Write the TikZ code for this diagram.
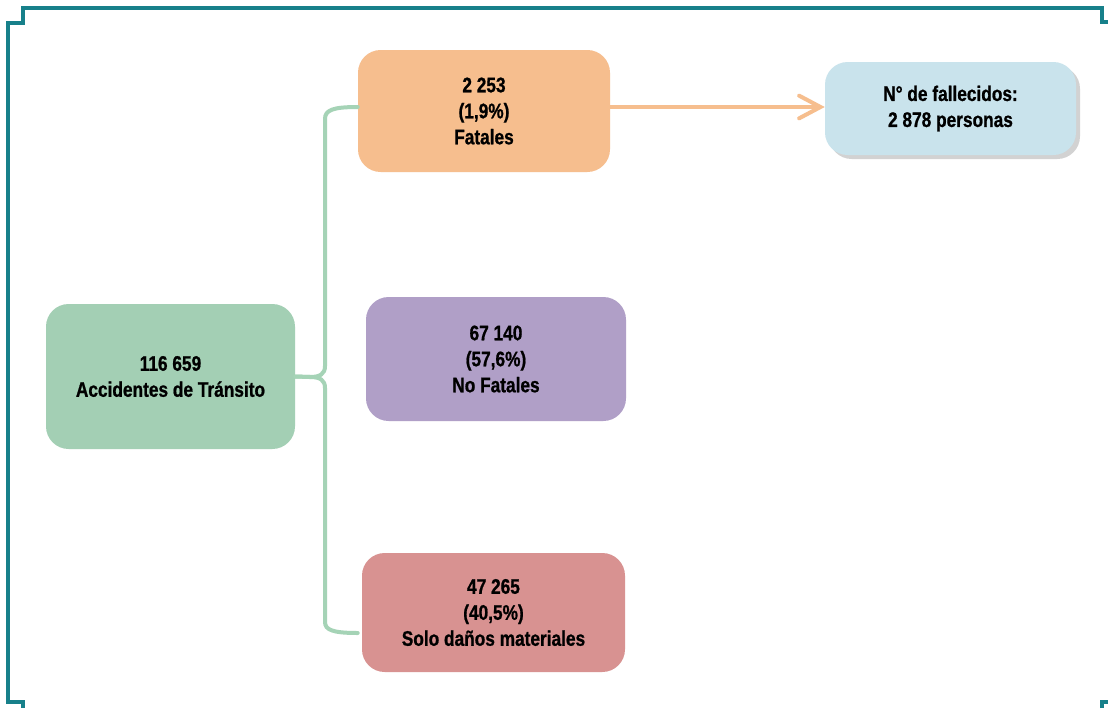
\documentclass[tikz,border=0pt]{standalone}
\usepackage{fontspec}
\setmainfont{Liberation Sans}[FakeStretch=0.82, BoldFeatures={FakeBold=0.9}]
\usetikzlibrary{arrows.meta,shadows,calc}
\definecolor{frameteal}{HTML}{17808A}
\definecolor{cgreen}{HTML}{A3CFB4}
\definecolor{corange}{HTML}{F6BE8E}
\definecolor{cblue}{HTML}{C9E3EC}
\definecolor{cpurple}{HTML}{B09FC7}
\definecolor{cred}{HTML}{D89291}
\definecolor{clink}{HTML}{A5D3B6}
\tikzset{
  box/.style={rounded corners=17pt, align=center, inner sep=0pt,
    font=\fontsize{15.8}{19.5}\selectfont\bfseries, text=black},
  brace/.style={draw=clink, line width=3pt, line cap=round},
  framepath/.style={draw=frameteal, line width=2.3pt},
  fatarrow/.style={draw=corange, line width=3pt, line cap=round,
    -{Straight Barb[length=16pt, width=17pt, line cap=round, line width=3pt]}}
}
\begin{document}
\begin{tikzpicture}[x=0.75pt, y=-0.75pt]
\useasboundingbox[fill=white] (0,0) rectangle (1108,708);
% frame
\draw[framepath] (1108,22) -- (1102,22) -- (1102,8) -- (23,8) -- (23,23) -- (8,23) -- (8,702) -- (23,702) -- (23,708);
\draw[framepath] (1102,708) -- (1102,702) -- (1108,702);
% boxes
\node[box, fill=cgreen, minimum width=186.75pt, minimum height=108.75pt] (acc) at (170.5,376.5) {116 659\\Accidentes de Tránsito};
\node[box, fill=corange, minimum width=189pt, minimum height=91.5pt] (fat) at (484,111) {2 253\\(1,9\%)\\Fatales};
\node[box, fill=cpurple, minimum width=195pt, minimum height=93pt] (nof) at (496,359) {67 140\\(57,6\%)\\No Fatales};
\node[box, fill=cred, minimum width=197.25pt, minimum height=89.25pt] (sol) at (493.5,612.5) {47 265\\(40,5\%)\\Solo daños materiales};
\node[box, fill=cblue, minimum width=188.25pt, minimum height=69.75pt,
  drop shadow={shadow xshift=3pt, shadow yshift=-3pt, opacity=0.35, fill=gray}] (fal) at (950.5,108.5) {N° de fallecidos:\\2 878 personas};
% brace connectors
\coordinate (ftop) at ($(fat.west)+(0,-4)$);
\coordinate (sbot) at ($(sol.west)+(-4,20.5)$);
\draw[brace] (acc.east) -- (310,377) .. controls (320,377) and (325,374) .. (325,366)
  -- (325,119) .. controls (325,110) and (333,107) .. (ftop);
\draw[brace] (acc.east) -- (310,377) .. controls (320,377) and (325,380) .. (325,388)
  -- (325,622) .. controls (325,630) and (333,633) .. (sbot);
% arrow
\draw[fatarrow] ($(fat.east)+(0,-4)$) -- ($(fal.west)+(0,-1.5)$);
\end{tikzpicture}
\end{document}
